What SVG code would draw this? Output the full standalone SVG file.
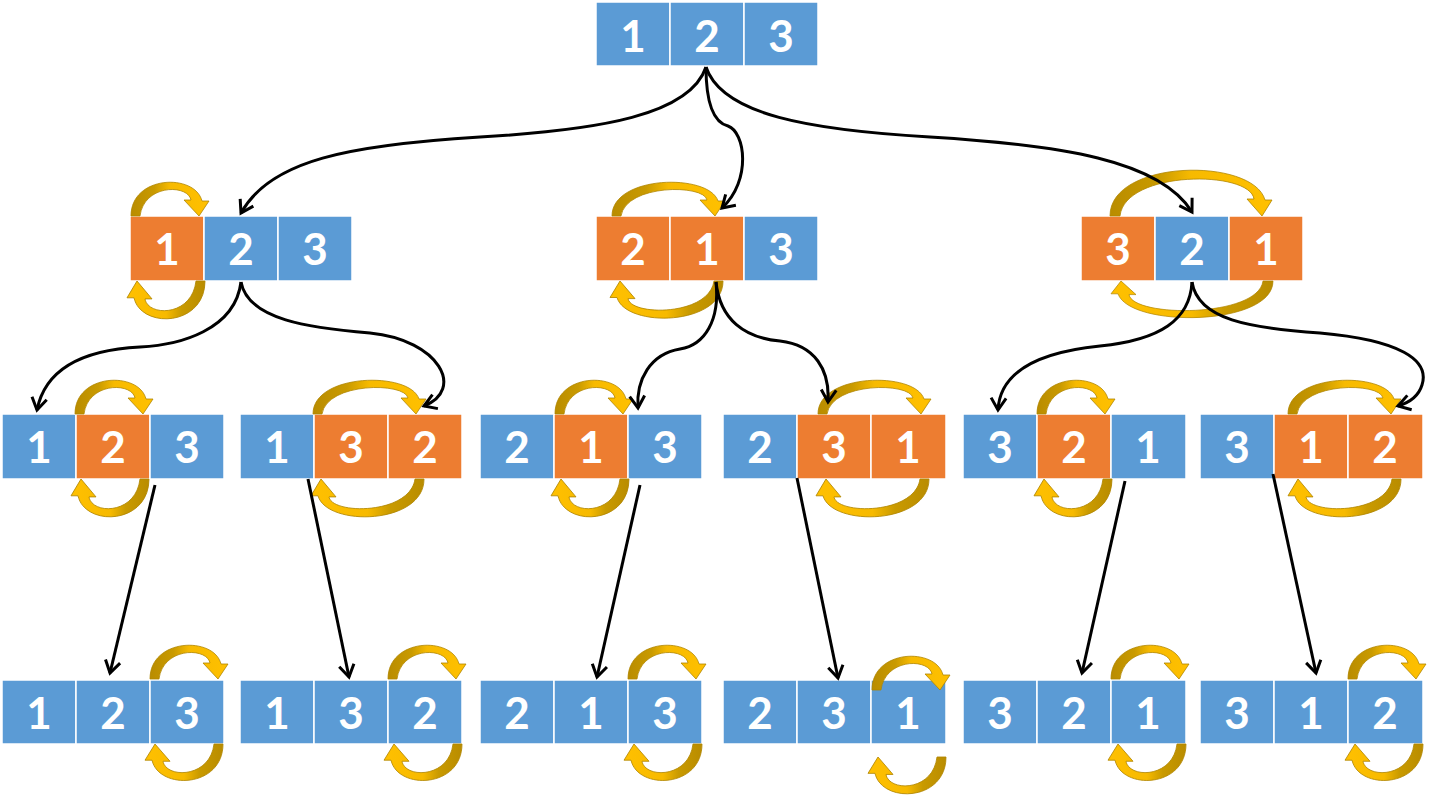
<svg xmlns="http://www.w3.org/2000/svg" xmlns:xlink="http://www.w3.org/1999/xlink" width="1443" height="796" viewBox="0 0 1443 796">
<style>
.b{fill:#5B9BD5;stroke:#fff;stroke-width:1.5}
.o{fill:#ED7D31;stroke:#fff;stroke-width:1.5}
.t{font-family:Lato,"Open Sans","Liberation Sans",sans-serif;font-weight:bold;font-size:44px;fill:#fff;text-anchor:middle}
.c{fill:none;stroke:#000;stroke-width:3;marker-end:url(#ah)}
.g{fill:url(#gold);stroke:#B08500;stroke-width:0.8}
</style>
<defs>
<linearGradient id="gold" x1="0" y1="0" x2="1" y2="0">
<stop offset="0" stop-color="#B98C00"/>
<stop offset="0.3" stop-color="#C99A00"/>
<stop offset="0.5" stop-color="#F7BA00"/>
<stop offset="1" stop-color="#FFC000"/>
</linearGradient>
<marker id="ah" markerUnits="userSpaceOnUse" markerWidth="20" markerHeight="20" viewBox="-14 -10 20 20" refX="0" refY="0" orient="auto" overflow="visible">
<path d="M -12 -7.5 L 0 0 L -12 7.5" fill="none" stroke="#000" stroke-width="3"/>
</marker>
<path id="arcS" class="g" d="M 0 0 C 0 -41 64 -43 71 -15 L 78 -15 L 68 0 L 53 -16 L 60 -16 C 57 -32 13 -32 9 0 Z"/>
<path id="arcM" class="g" d="M 0 0 C 0 -41 97 -43 106 -15 L 113 -15 L 103 0 L 88 -16 L 95 -16 C 92 -32 14 -32 9 0 Z"/>
<path id="arcL" class="g" d="M 0 0 C 0 -57 143 -59 155 -16 L 162 -16 L 152 0 L 137 -17 L 144 -17 C 140 -46 15 -46 10 0 Z"/>
</defs>

<g id="root">
<rect class="b" x="596" y="2" width="74" height="64"/><rect class="b" x="670" y="2" width="74" height="64"/><rect class="b" x="744" y="2" width="74" height="64"/>
<text class="t" x="633" y="52">1</text><text class="t" x="707" y="52">2</text><text class="t" x="781" y="52">3</text>
</g>

<g id="n123a">
<rect class="o" x="130" y="216" width="74" height="65"/><rect class="b" x="204" y="216" width="74" height="65"/><rect class="b" x="278" y="216" width="74" height="65"/>
<text class="t" x="167" y="265">1</text><text class="t" x="241" y="265">2</text><text class="t" x="315" y="265">3</text>
<use xlink:href="#arcS" transform="translate(131,216)"/>
<use xlink:href="#arcS" transform="translate(205,281) rotate(180) scale(1,1.12)"/>
</g>

<g id="n213a">
<rect class="o" x="596" y="216" width="74" height="65"/><rect class="o" x="670" y="216" width="74" height="65"/><rect class="b" x="744" y="216" width="74" height="65"/>
<text class="t" x="633" y="265">2</text><text class="t" x="707" y="265">1</text><text class="t" x="781" y="265">3</text>
<use xlink:href="#arcM" transform="translate(612,216)"/>
<use xlink:href="#arcM" transform="translate(723,281) rotate(180) scale(1,1.1)"/>
</g>

<g id="n321a">
<rect class="o" x="1081" y="216" width="74" height="65"/><rect class="b" x="1155" y="216" width="74" height="65"/><rect class="o" x="1229" y="216" width="74" height="65"/>
<text class="t" x="1118" y="265">3</text><text class="t" x="1192" y="265">2</text><text class="t" x="1266" y="265">1</text>
<use xlink:href="#arcL" transform="translate(1110,216)"/>
<use xlink:href="#arcL" transform="translate(1273,281) rotate(180) scale(1,0.8)"/>
</g>

<g id="n123b">
<rect class="b" x="2" y="414" width="74" height="65"/><rect class="o" x="76" y="414" width="74" height="65"/><rect class="b" x="150" y="414" width="74" height="65"/>
<text class="t" x="39" y="463">1</text><text class="t" x="113" y="463">2</text><text class="t" x="187" y="463">3</text>
<use xlink:href="#arcS" transform="translate(75,414)"/>
<use xlink:href="#arcS" transform="translate(149,479) rotate(180) scale(1,1.12)"/>
</g>

<g id="n132b">
<rect class="b" x="240" y="414" width="74" height="65"/><rect class="o" x="314" y="414" width="74" height="65"/><rect class="o" x="388" y="414" width="74" height="65"/>
<text class="t" x="277" y="463">1</text><text class="t" x="351" y="463">3</text><text class="t" x="425" y="463">2</text>
<use xlink:href="#arcM" transform="translate(313,414)"/>
<use xlink:href="#arcM" transform="translate(424,479) rotate(180) scale(1,1.12)"/>
</g>

<g id="n213b">
<rect class="b" x="480" y="414" width="74" height="65"/><rect class="o" x="554" y="414" width="74" height="65"/><rect class="b" x="628" y="414" width="74" height="65"/>
<text class="t" x="517" y="463">2</text><text class="t" x="591" y="463">1</text><text class="t" x="665" y="463">3</text>
<use xlink:href="#arcS" transform="translate(555,414)"/>
<use xlink:href="#arcS" transform="translate(629,479) rotate(180) scale(1,1.12)"/>
</g>

<g id="n231b">
<rect class="b" x="723" y="414" width="74" height="65"/><rect class="o" x="797" y="414" width="74" height="65"/><rect class="o" x="871" y="414" width="75" height="65"/>
<text class="t" x="760" y="463">2</text><text class="t" x="834" y="463">3</text><text class="t" x="908" y="463">1</text>
<use xlink:href="#arcM" transform="translate(818,414)"/>
<use xlink:href="#arcM" transform="translate(929,479) rotate(180) scale(1,1.12)"/>
</g>

<g id="n321b">
<rect class="b" x="963" y="414" width="74" height="65"/><rect class="o" x="1037" y="414" width="74" height="65"/><rect class="b" x="1111" y="414" width="75" height="65"/>
<text class="t" x="1000" y="463">3</text><text class="t" x="1074" y="463">2</text><text class="t" x="1148" y="463">1</text>
<use xlink:href="#arcS" transform="translate(1037,414)"/>
<use xlink:href="#arcS" transform="translate(1112,479) rotate(180) scale(1,1.12)"/>
</g>

<g id="n312b">
<rect class="b" x="1200" y="414" width="74" height="65"/><rect class="o" x="1274" y="414" width="74" height="65"/><rect class="o" x="1348" y="414" width="75" height="65"/>
<text class="t" x="1237" y="463">3</text><text class="t" x="1311" y="463">1</text><text class="t" x="1385" y="463">2</text>
<use xlink:href="#arcM" transform="translate(1288,414)"/>
<use xlink:href="#arcM" transform="translate(1401,479) rotate(180) scale(1,1.12)"/>
</g>

<g id="n123c">
<rect class="b" x="2" y="680" width="74" height="64"/><rect class="b" x="76" y="680" width="74" height="64"/><rect class="b" x="150" y="680" width="74" height="64"/>
<text class="t" x="39" y="729">1</text><text class="t" x="113" y="729">2</text><text class="t" x="187" y="729">3</text>
<use xlink:href="#arcS" transform="translate(150,679)"/>
<use xlink:href="#arcS" transform="translate(223,744) rotate(180) scale(1,1.08)"/>
</g>

<g id="n132c">
<rect class="b" x="240" y="680" width="74" height="64"/><rect class="b" x="314" y="680" width="74" height="64"/><rect class="b" x="388" y="680" width="74" height="64"/>
<text class="t" x="277" y="729">1</text><text class="t" x="351" y="729">3</text><text class="t" x="425" y="729">2</text>
<use xlink:href="#arcS" transform="translate(388,679)"/>
<use xlink:href="#arcS" transform="translate(462,744) rotate(180) scale(1,1.08)"/>
</g>

<g id="n213c">
<rect class="b" x="480" y="680" width="74" height="64"/><rect class="b" x="554" y="680" width="74" height="64"/><rect class="b" x="628" y="680" width="74" height="64"/>
<text class="t" x="517" y="729">2</text><text class="t" x="591" y="729">1</text><text class="t" x="665" y="729">3</text>
<use xlink:href="#arcS" transform="translate(628,679)"/>
<use xlink:href="#arcS" transform="translate(702,744) rotate(180) scale(1,1.08)"/>
</g>

<g id="n231c">
<rect class="b" x="723" y="680" width="74" height="64"/><rect class="b" x="797" y="680" width="74" height="64"/><rect class="b" x="871" y="680" width="75" height="64"/>
<text class="t" x="760" y="729">2</text><text class="t" x="834" y="729">3</text><text class="t" x="908" y="729">1</text>
<use xlink:href="#arcS" transform="translate(872,690)"/>
<use xlink:href="#arcS" transform="translate(946,757) rotate(180) scale(1,1.09)"/>
</g>

<g id="n321c">
<rect class="b" x="963" y="680" width="74" height="64"/><rect class="b" x="1037" y="680" width="74" height="64"/><rect class="b" x="1111" y="680" width="75" height="64"/>
<text class="t" x="1000" y="729">3</text><text class="t" x="1074" y="729">2</text><text class="t" x="1148" y="729">1</text>
<use xlink:href="#arcS" transform="translate(1111,679)"/>
<use xlink:href="#arcS" transform="translate(1186,744) rotate(180) scale(1,1.08)"/>
</g>

<g id="n312c">
<rect class="b" x="1200" y="680" width="74" height="64"/><rect class="b" x="1274" y="680" width="74" height="64"/><rect class="b" x="1348" y="680" width="75" height="64"/>
<text class="t" x="1237" y="729">3</text><text class="t" x="1311" y="729">1</text><text class="t" x="1385" y="729">2</text>
<use xlink:href="#arcS" transform="translate(1348,679)"/>
<use xlink:href="#arcS" transform="translate(1423,744) rotate(180) scale(1,1.08)"/>
</g>

<g id="connectors">
<path class="c" d="M 706 67 C 690 115, 600 130, 480 137 C 350 145, 270 160, 241 213"/>
<path class="c" d="M 706 67 C 706 100, 712 122, 728 126 C 745 132, 752 180, 722 208"/>
<path class="c" d="M 706 67 C 722 115, 810 130, 930 137 C 1060 145, 1160 160, 1192 212"/>
<path class="c" d="M 241 282 C 235 330, 180 345, 140 347 C 80 350, 45 370, 37 410"/>
<path class="c" d="M 241 282 C 248 320, 310 328, 370 333 C 440 340, 465 390, 424 406"/>
<path class="c" d="M 716 282 C 720 320, 705 345, 680 349 C 650 354, 636 380, 638 408"/>
<path class="c" d="M 716 282 C 720 320, 745 338, 780 341 C 815 345, 830 370, 828 402"/>
<path class="c" d="M 1192 282 C 1190 320, 1160 340, 1100 346 C 1040 352, 1000 370, 998 410"/>
<path class="c" d="M 1192 282 C 1198 320, 1250 328, 1320 333 C 1400 340, 1430 360, 1422 385 C 1418 398, 1408 403, 1398 406"/>
<path class="c" d="M 155 485 L 110 673"/>
<path class="c" d="M 308 479 L 349 677"/>
<path class="c" d="M 640 485 L 597 677"/>
<path class="c" d="M 797 478 L 838 678"/>
<path class="c" d="M 1125 481 L 1082 673"/>
<path class="c" d="M 1273 474 L 1316 673"/>
</g>
</svg>
